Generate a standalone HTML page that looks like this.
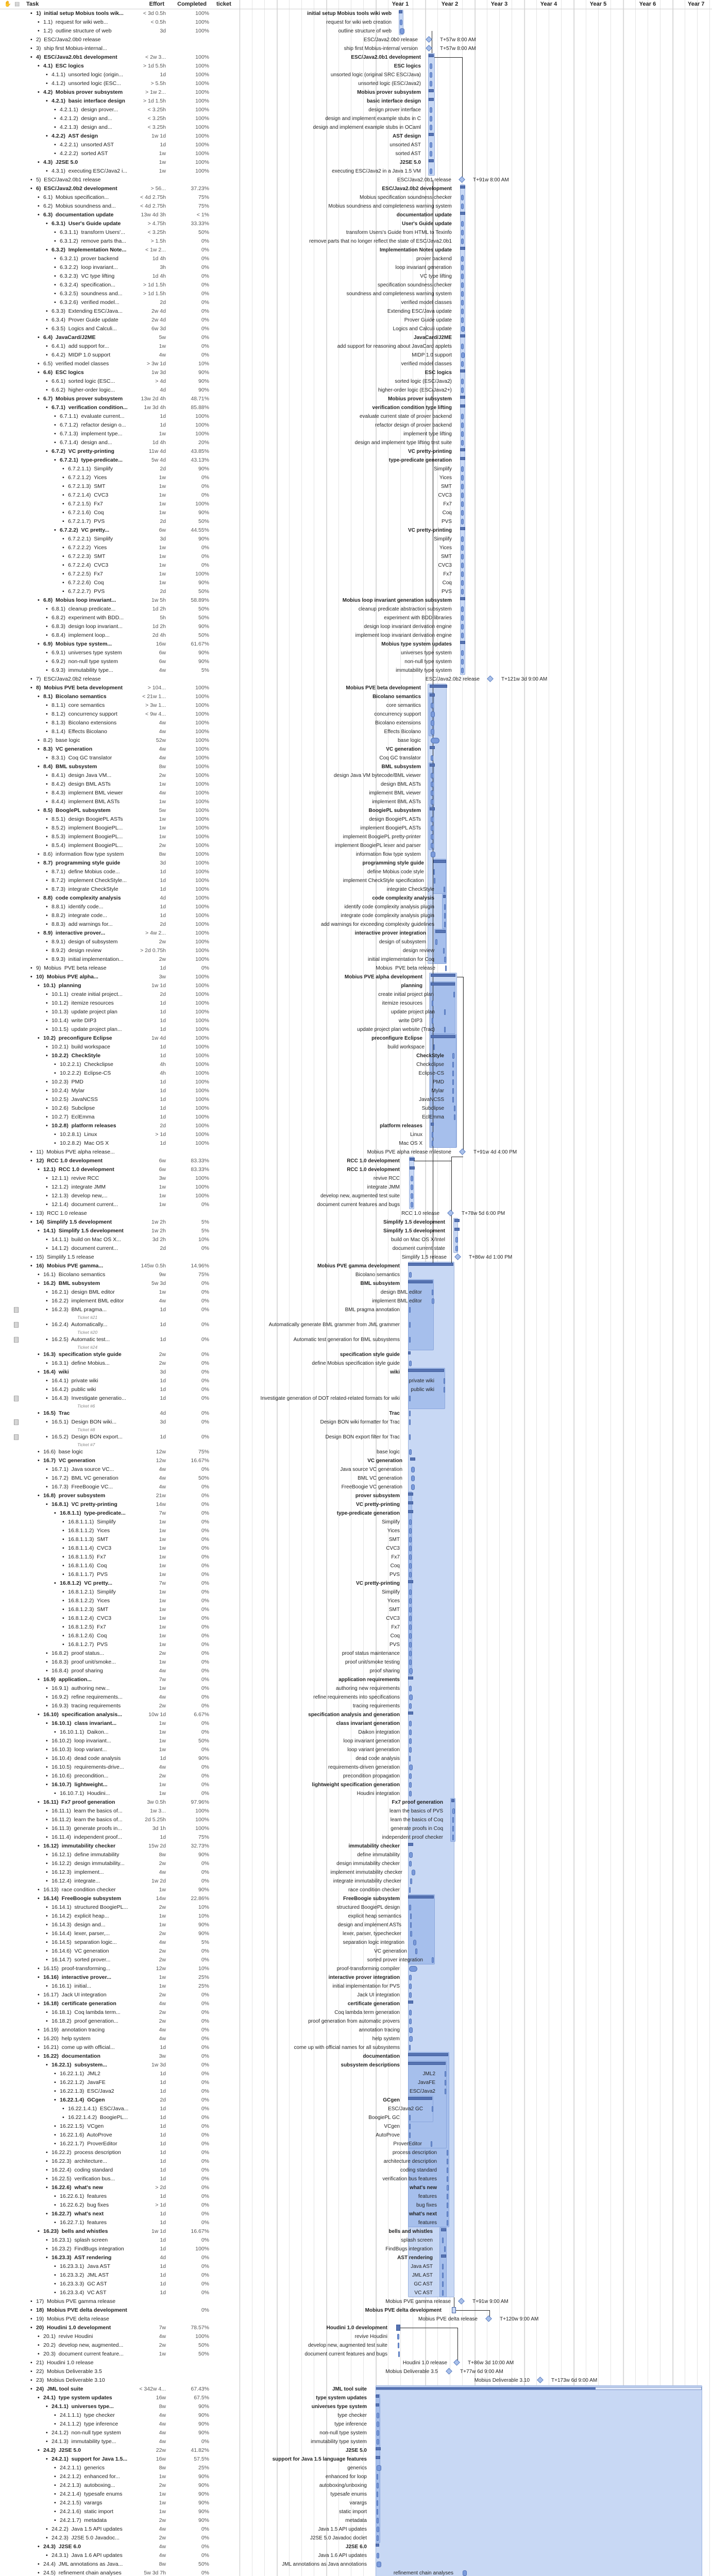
<!DOCTYPE html>
<html style="width:1382px;height:5107px;overflow:hidden"><head><meta charset="utf-8">
<style>
*{margin:0;padding:0;box-sizing:border-box}
html,body{width:1382px;height:5107px;overflow:hidden;background:#fff}
#wrap{position:absolute;left:0;top:0;width:1382px;height:5107px;overflow:hidden;font-family:"Liberation Sans",sans-serif;color:#222}
#grid{position:absolute;left:465px;top:0;width:917px;height:5107px;border-left:1px solid #c4c4c4;
background-image:repeating-linear-gradient(to right,transparent 0,transparent 71px,#cdcdcd 71px,#cdcdcd 72px,transparent 72px,transparent 96px),repeating-linear-gradient(to right,transparent 0,transparent 23px,#e4e4e4 23px,#e4e4e4 24px);background-position:1px 0,0 0}
#rows{position:absolute;left:0;top:0;width:1382px;height:5107px;overflow:hidden}
#hdr{position:relative;height:18px;border-bottom:1px solid #d0d0d0;font-size:11px;font-weight:bold;line-height:17px;overflow:hidden}
#hdr span{position:absolute;top:0}
.yr{width:96px;text-align:center}
.r{position:relative;height:17px;font-size:10.5px;line-height:17px;white-space:nowrap;overflow:visible}
.r>span{position:absolute;top:0}
.t{color:#222}
.t::before{content:"\2022";position:absolute;left:-11px;color:#111}
.l1{left:70px}.l2{left:84px}.l3{left:100px}.l4{left:116px}.l5{left:132px}.l6{left:148px}
.e{right:1060px;color:#555}
.c{right:976px;color:#555}
.g{right:var(--g);font-size:10px;color:#222}
.b{font-weight:bold}
.r>b{position:absolute;display:block}
.k{left:var(--x);top:3px;width:5px;height:11px;border-radius:3px;background:#7b9bdb;border:1px solid #4f71b6}
.s{left:calc(var(--x) - 2px);top:2px;width:10px;height:6px;background:#5673b2;border:1px solid #3f5c9c}
.d{left:calc(var(--x) - 6px);top:3px;width:9px;height:9px;transform:rotate(45deg);background:#a9c0ea;border:1px solid #5d80c0}
.m{left:calc(var(--x) + 20px);font-size:10px}
.tk{height:12px;position:relative;font-size:8.5px;font-style:italic;color:#888;line-height:12px}
.tk span{position:absolute;left:150px;top:0}
.ic{position:absolute;left:27px;top:3px;width:9px;height:11px;border:1px solid #999;background:repeating-linear-gradient(#fff 0,#fff 1px,#aaa 1px,#aaa 2px);}
.bx{position:absolute;background:#c8d8f4;border:1px solid #9cb3de;border-radius:2px}
.bi{position:absolute;background:#a6bfec;border:1px solid #8aa6dc;border-radius:2px}
.ln{position:absolute;background:#222}
.A{--g:622px;--x:776px}.B{--g:565px;--x:834px}.C{--g:505px;--x:895px}
.D{--g:565px;--x:836px}.D2{--g:559px;--x:860px}.D3{--g:539px;--x:862px}.D4{--g:555px;--x:858px}
.E{--g:562px;--x:840px}.E2{--g:540px;--x:880px}.E3{--g:520px;--x:878px}
.F{--g:606px;--x:797px}.G{--g:518px;--x:884px}
.H{--g:606px;--x:794px}.H2{--g:563px;--x:838px}.H3{--g:539px;--x:861px}.H4{--g:522px;--x:878px}
.H5{--g:537px;--x:863px}.H6{--g:534px;--x:867px}.H7{--g:542px;--x:858px}
.J{--g:670px;--x:731px}
</style></head><body><div id="wrap">
<div id="grid"></div>
<div class="bx" style="left:774px;top:19px;width:9px;height:49px"></div>
<div class="bx" style="left:831px;top:103px;width:13px;height:238px"></div>
<div class="bx" style="left:893px;top:358px;width:10px;height:952px"></div>
<div class="bx" style="left:830px;top:1327px;width:37px;height:544px"></div>
<div class="bi" style="left:832px;top:1344px;width:11px;height:85px"></div>
<div class="bi" style="left:832px;top:1480px;width:11px;height:85px"></div>
<div class="bi" style="left:832px;top:1565px;width:11px;height:85px"></div>
<div class="bi" style="left:840px;top:1667px;width:26px;height:68px"></div>
<div class="bi" style="left:858px;top:1735px;width:8px;height:68px"></div>
<div class="bi" style="left:843px;top:1803px;width:23px;height:68px"></div>
<div class="bx" style="left:833px;top:1888px;width:54px;height:340px"></div>
<div class="bi" style="left:835px;top:1905px;width:49px;height:102px"></div>
<div class="bi" style="left:835px;top:2007px;width:51px;height:221px"></div>
<div class="bx" style="left:794px;top:2245px;width:10px;height:102px"></div>
<div class="bx" style="left:880px;top:2364px;width:9px;height:68px"></div>
<div class="bx" style="left:792px;top:2449px;width:90px;height:2010px"></div>
<div class="bi" style="left:792px;top:2483px;width:50px;height:138px"></div>
<div class="bi" style="left:792px;top:2655px;width:72px;height:80px"></div>
<div class="bi" style="left:792px;top:2895px;width:8px;height:357px"></div>
<div class="bi" style="left:874px;top:3490px;width:10px;height:85px"></div>
<div class="bi" style="left:792px;top:3677px;width:52px;height:136px"></div>
<div class="bi" style="left:792px;top:3983px;width:80px;height:340px"></div>
<div class="bi" style="left:792px;top:4000px;width:75px;height:170px"></div>
<div class="bi" style="left:792px;top:4068px;width:49px;height:51px"></div>
<div class="bi" style="left:853px;top:4323px;width:14px;height:136px"></div>
<div class="bx" style="left:729px;top:4630px;width:634px;height:472px"></div>
<div class="bi" style="left:729px;top:4647px;width:9px;height:289px"></div>
<div class="bi" style="left:857px;top:5003px;width:505px;height:99px"></div>
<div class="ln" style="left:838px;top:60px;width:1px;height:43px"></div>
<div class="ln" style="left:843px;top:111px;width:54px;height:1px"></div>
<div class="ln" style="left:897px;top:111px;width:1px;height:234px"></div>
<div class="ln" style="left:840px;top:349px;width:1px;height:2108px"></div>
<div class="ln" style="left:887px;top:1896px;width:12px;height:1px"></div>
<div class="ln" style="left:899px;top:1896px;width:1px;height:336px"></div>
<div class="ln" style="left:876px;top:2245px;width:23px;height:1px"></div>
<div class="ln" style="left:803px;top:2253px;width:73px;height:1px"></div>
<div class="ln" style="left:876px;top:2245px;width:1px;height:212px"></div>
<div class="ln" style="left:881px;top:4459px;width:1px;height:25px"></div>
<div class="ln" style="left:880px;top:4484px;width:70px;height:1px"></div>
<div class="ln" style="left:950px;top:4484px;width:1px;height:13px"></div>
<div class="ln" style="left:771px;top:4518px;width:117px;height:1px"></div>
<div class="ln" style="left:888px;top:4518px;width:1px;height:64px"></div>
<div style="position:absolute;left:729px;top:4633px;width:633px;height:6px;background:#dfe8f8;border:1px solid #7d95c8"></div>
<div style="position:absolute;left:730px;top:4634px;width:426px;height:4px;background:#5673b2"></div>
<div style="position:absolute;left:858px;top:5006px;width:504px;height:6px;background:#dfe8f8;border:1px solid #7d95c8"></div>
<div style="position:absolute;left:859px;top:5007px;width:383px;height:4px;background:#5673b2"></div>
<div style="position:absolute;left:1203px;top:5023px;width:159px;height:12px;background:#dfe8f8;border:1px solid #7d95c8;border-radius:3px"></div>
<div style="position:absolute;left:1204px;top:5024px;width:125px;height:10px;background:#5a7ab8;border-radius:2px"></div>
<div style="position:absolute;left:1203px;top:5040px;width:159px;height:12px;background:#dfe8f8;border:1px solid #7d95c8;border-radius:3px"></div>
<div style="position:absolute;left:1204px;top:5041px;width:125px;height:10px;background:#5a7ab8;border-radius:2px"></div>
<div id="rows">
<div id="hdr"><span style="left:8px;color:#555">&#9995;</span><span style="left:28px;font-weight:normal;color:#999">&#9636;</span><span style="left:51px">Task</span><span style="right:1063px">Effort</span><span style="right:981px">Completed</span><span style="left:420px">ticket</span>
<span class="yr" style="left:729px">Year 1</span><span class="yr" style="left:825px">Year 2</span><span class="yr" style="left:921px">Year 3</span><span class="yr" style="left:1017px">Year 4</span><span class="yr" style="left:1113px">Year 5</span><span class="yr" style="left:1209px">Year 6</span><span class="yr" style="left:1305px;width:77px;text-align:left;padding-left:30px">Year 7</span></div>

<div class="r A"><span class="t l1 b">1)&nbsp; initial setup Mobius tools wik...</span><span class="e">&lt; 3d 0.5h</span><span class="c">100%</span><span class="g b">initial setup Mobius tools wiki web</span><b class="s" style="width:7px"></b></div>
<div class="r A"><span class="t l2">1.1)&nbsp; request for wiki web...</span><span class="e">&lt; 0.5h</span><span class="c">100%</span><span class="g">request for wiki web creation</span><b class="k"></b></div>
<div class="r A"><span class="t l2">1.2)&nbsp; outline structure of web</span><span class="e">3d</span><span class="c">100%</span><span class="g">outline structure of web</span><b class="k" style="width:9px"></b></div>
<div class="r" style="--g:571px;--x:834px"><span class="t l1">2)&nbsp; ESC/Java2.0b0 release</span><span class="g">ESC/Java2.0b0 release</span><b class="d"></b><span class="m">T+57w 8:00 AM</span></div>
<div class="r" style="--g:571px;--x:834px"><span class="t l1">3)&nbsp; ship first Mobius-internal...</span><span class="g">ship first Mobius-internal version</span><b class="d"></b><span class="m">T+57w 8:00 AM</span></div>
<div class="r B"><span class="t l1 b">4)&nbsp; ESC/Java2.0b1 development</span><span class="e">&lt; 2w 3...</span><span class="c">100%</span><span class="g b">ESC/Java2.0b1 development</span><b class="s"></b></div>
<div class="r B"><span class="t l2 b">4.1)&nbsp; ESC logics</span><span class="e">&gt; 1d 5.5h</span><span class="c">100%</span><span class="g b">ESC logics</span><b class="k"></b></div>
<div class="r B"><span class="t l3">4.1.1)&nbsp; unsorted logic (origin...</span><span class="e">1d</span><span class="c">100%</span><span class="g">unsorted logic (original SRC ESC/Java)</span><b class="k"></b></div>
<div class="r B"><span class="t l3">4.1.2)&nbsp; unsorted logic (ESC...</span><span class="e">&gt; 5.5h</span><span class="c">100%</span><span class="g">unsorted logic (ESC/Java2)</span><b class="k"></b></div>
<div class="r B"><span class="t l2 b">4.2)&nbsp; Mobius prover subsystem</span><span class="e">&gt; 1w 2...</span><span class="c">100%</span><span class="g b">Mobius prover subsystem</span><b class="s"></b></div>
<div class="r B"><span class="t l3 b">4.2.1)&nbsp; basic interface design</span><span class="e">&gt; 1d 1.5h</span><span class="c">100%</span><span class="g b">basic interface design</span><b class="s"></b></div>
<div class="r B"><span class="t l4">4.2.1.1)&nbsp; design prover...</span><span class="e">&lt; 3.25h</span><span class="c">100%</span><span class="g">design prover interface</span><b class="k"></b></div>
<div class="r B"><span class="t l4">4.2.1.2)&nbsp; design and...</span><span class="e">&lt; 3.25h</span><span class="c">100%</span><span class="g">design and implement example stubs in C</span><b class="k"></b></div>
<div class="r B"><span class="t l4">4.2.1.3)&nbsp; design and...</span><span class="e">&lt; 3.25h</span><span class="c">100%</span><span class="g">design and implement example stubs in OCaml</span><b class="k"></b></div>
<div class="r B"><span class="t l3 b">4.2.2)&nbsp; AST design</span><span class="e">1w 1d</span><span class="c">100%</span><span class="g b">AST design</span><b class="s"></b></div>
<div class="r B"><span class="t l4">4.2.2.1)&nbsp; unsorted AST</span><span class="e">1d</span><span class="c">100%</span><span class="g">unsorted AST</span><b class="k"></b></div>
<div class="r B"><span class="t l4">4.2.2.2)&nbsp; sorted AST</span><span class="e">1w</span><span class="c">100%</span><span class="g">sorted AST</span><b class="k"></b></div>
<div class="r B"><span class="t l2 b">4.3)&nbsp; J2SE 5.0</span><span class="e">1w</span><span class="c">100%</span><span class="g b">J2SE 5.0</span><b class="s"></b></div>
<div class="r B"><span class="t l3">4.3.1)&nbsp; executing ESC/Java2 i...</span><span class="e">1w</span><span class="c">100%</span><span class="g">executing ESC/Java2 in a Java 1.5 VM</span><b class="k"></b></div>
<div class="r" style="--g:506px;--x:898px"><span class="t l1">5)&nbsp; ESC/Java2.0b1 release</span><span class="g">ESC/Java2.0b1 release</span><b class="d"></b><span class="m">T+91w 8:00 AM</span></div>
<div class="r C"><span class="t l1 b">6)&nbsp; ESC/Java2.0b2 development</span><span class="e">&gt; 56...</span><span class="c">37.23%</span><span class="g b">ESC/Java2.0b2 development</span><b class="s"></b></div>
<div class="r C"><span class="t l2">6.1)&nbsp; Mobius specification...</span><span class="e">&lt; 4d 2.75h</span><span class="c">75%</span><span class="g">Mobius specification soundness checker</span><b class="k"></b></div>
<div class="r C"><span class="t l2">6.2)&nbsp; Mobius soundness and...</span><span class="e">&lt; 4d 2.75h</span><span class="c">75%</span><span class="g">Mobius soundness and completeness warning system</span><b class="k"></b></div>
<div class="r C"><span class="t l2 b">6.3)&nbsp; documentation update</span><span class="e">13w 4d 3h</span><span class="c">&lt; 1%</span><span class="g b">documentation update</span><b class="s"></b></div>
<div class="r C"><span class="t l3 b">6.3.1)&nbsp; User's Guide update</span><span class="e">&gt; 4.75h</span><span class="c">33.33%</span><span class="g b">User's Guide update</span><b class="k"></b></div>
<div class="r C"><span class="t l4">6.3.1.1)&nbsp; transform Users'...</span><span class="e">&lt; 3.25h</span><span class="c">50%</span><span class="g">transform Users's Guide from HTML to Texinfo</span><b class="k"></b></div>
<div class="r C"><span class="t l4">6.3.1.2)&nbsp; remove parts tha...</span><span class="e">&gt; 1.5h</span><span class="c">0%</span><span class="g">remove parts that no longer reflect the state of ESC/Java2.0b1</span><b class="k"></b></div>
<div class="r C"><span class="t l3 b">6.3.2)&nbsp; Implementation Note...</span><span class="e">&lt; 1w 2...</span><span class="c">0%</span><span class="g b">Implementation Notes update</span><b class="s"></b></div>
<div class="r C"><span class="t l4">6.3.2.1)&nbsp; prover backend</span><span class="e">1d 4h</span><span class="c">0%</span><span class="g">prover backend</span><b class="k"></b></div>
<div class="r C"><span class="t l4">6.3.2.2)&nbsp; loop invariant...</span><span class="e">3h</span><span class="c">0%</span><span class="g">loop invariant generation</span><b class="k"></b></div>
<div class="r C"><span class="t l4">6.3.2.3)&nbsp; VC type lifting</span><span class="e">1d 4h</span><span class="c">0%</span><span class="g">VC type lifting</span><b class="k"></b></div>
<div class="r C"><span class="t l4">6.3.2.4)&nbsp; specification...</span><span class="e">&gt; 1d 1.5h</span><span class="c">0%</span><span class="g">specification soundness checker</span><b class="k"></b></div>
<div class="r C"><span class="t l4">6.3.2.5)&nbsp; soundness and...</span><span class="e">&gt; 1d 1.5h</span><span class="c">0%</span><span class="g">soundness and completeness warning system</span><b class="k"></b></div>
<div class="r C"><span class="t l4">6.3.2.6)&nbsp; verified model...</span><span class="e">2d</span><span class="c">0%</span><span class="g">verified model classes</span><b class="k"></b></div>
<div class="r C"><span class="t l3">6.3.3)&nbsp; Extending ESC/Java...</span><span class="e">2w 4d</span><span class="c">0%</span><span class="g">Extending ESC/Java update</span><b class="k"></b></div>
<div class="r C"><span class="t l3">6.3.4)&nbsp; Prover Guide update</span><span class="e">2w 4d</span><span class="c">0%</span><span class="g">Prover Guide update</span><b class="k"></b></div>
<div class="r C"><span class="t l3">6.3.5)&nbsp; Logics and Calculi...</span><span class="e">6w 3d</span><span class="c">0%</span><span class="g">Logics and Calculi update</span><b class="k" style="width:7px"></b></div>
<div class="r C"><span class="t l2 b">6.4)&nbsp; JavaCard/J2ME</span><span class="e">5w</span><span class="c">0%</span><span class="g b">JavaCard/J2ME</span><b class="s"></b></div>
<div class="r C"><span class="t l3">6.4.1)&nbsp; add support for...</span><span class="e">1w</span><span class="c">0%</span><span class="g">add support for reasoning about JavaCard applets</span><b class="k"></b></div>
<div class="r C"><span class="t l3">6.4.2)&nbsp; MIDP 1.0 support</span><span class="e">4w</span><span class="c">0%</span><span class="g">MIDP 1.0 support</span><b class="k" style="width:7px"></b></div>
<div class="r C"><span class="t l2">6.5)&nbsp; verified model classes</span><span class="e">&gt; 3w 1d</span><span class="c">10%</span><span class="g">verified model classes</span><b class="k"></b></div>
<div class="r C"><span class="t l2 b">6.6)&nbsp; ESC logics</span><span class="e">1w 3d</span><span class="c">90%</span><span class="g b">ESC logics</span><b class="s"></b></div>
<div class="r C"><span class="t l3">6.6.1)&nbsp; sorted logic (ESC...</span><span class="e">&gt; 4d</span><span class="c">90%</span><span class="g">sorted logic (ESC/Java2)</span><b class="k"></b></div>
<div class="r C"><span class="t l3">6.6.2)&nbsp; higher-order logic...</span><span class="e">4d</span><span class="c">90%</span><span class="g">higher-order logic (ESC/Java2+)</span><b class="k"></b></div>
<div class="r C"><span class="t l2 b">6.7)&nbsp; Mobius prover subsystem</span><span class="e">13w 2d 4h</span><span class="c">48.71%</span><span class="g b">Mobius prover subsystem</span><b class="s"></b></div>
<div class="r C"><span class="t l3 b">6.7.1)&nbsp; verification condition...</span><span class="e">1w 3d 4h</span><span class="c">85.88%</span><span class="g b">verification condition type lifting</span><b class="s"></b></div>
<div class="r C"><span class="t l4">6.7.1.1)&nbsp; evaluate current...</span><span class="e">1d</span><span class="c">100%</span><span class="g">evaluate current state of prover backend</span><b class="k"></b></div>
<div class="r C"><span class="t l4">6.7.1.2)&nbsp; refactor design o...</span><span class="e">1d</span><span class="c">100%</span><span class="g">refactor design of prover backend</span><b class="k"></b></div>
<div class="r C"><span class="t l4">6.7.1.3)&nbsp; implement type...</span><span class="e">1w</span><span class="c">100%</span><span class="g">implement type lifting</span><b class="k"></b></div>
<div class="r C"><span class="t l4">6.7.1.4)&nbsp; design and...</span><span class="e">1d 4h</span><span class="c">20%</span><span class="g">design and implement type lifting test suite</span><b class="k"></b></div>
<div class="r C"><span class="t l3 b">6.7.2)&nbsp; VC pretty-printing</span><span class="e">11w 4d</span><span class="c">43.85%</span><span class="g b">VC pretty-printing</span><b class="s"></b></div>
<div class="r C"><span class="t l4 b">6.7.2.1)&nbsp; type-predicate...</span><span class="e">5w 4d</span><span class="c">43.13%</span><span class="g b">type-predicate generation</span><b class="s"></b></div>
<div class="r C"><span class="t l5">6.7.2.1.1)&nbsp; Simplify</span><span class="e">2d</span><span class="c">90%</span><span class="g">Simplify</span><b class="k"></b></div>
<div class="r C"><span class="t l5">6.7.2.1.2)&nbsp; Yices</span><span class="e">1w</span><span class="c">0%</span><span class="g">Yices</span><b class="k"></b></div>
<div class="r C"><span class="t l5">6.7.2.1.3)&nbsp; SMT</span><span class="e">1w</span><span class="c">0%</span><span class="g">SMT</span><b class="k"></b></div>
<div class="r C"><span class="t l5">6.7.2.1.4)&nbsp; CVC3</span><span class="e">1w</span><span class="c">0%</span><span class="g">CVC3</span><b class="k"></b></div>
<div class="r C"><span class="t l5">6.7.2.1.5)&nbsp; Fx7</span><span class="e">1w</span><span class="c">100%</span><span class="g">Fx7</span><b class="k"></b></div>
<div class="r C"><span class="t l5">6.7.2.1.6)&nbsp; Coq</span><span class="e">1w</span><span class="c">90%</span><span class="g">Coq</span><b class="k"></b></div>
<div class="r C"><span class="t l5">6.7.2.1.7)&nbsp; PVS</span><span class="e">2d</span><span class="c">50%</span><span class="g">PVS</span><b class="k"></b></div>
<div class="r C"><span class="t l4 b">6.7.2.2)&nbsp; VC pretty...</span><span class="e">6w</span><span class="c">44.55%</span><span class="g b">VC pretty-printing</span><b class="s"></b></div>
<div class="r C"><span class="t l5">6.7.2.2.1)&nbsp; Simplify</span><span class="e">3d</span><span class="c">90%</span><span class="g">Simplify</span><b class="k"></b></div>
<div class="r C"><span class="t l5">6.7.2.2.2)&nbsp; Yices</span><span class="e">1w</span><span class="c">0%</span><span class="g">Yices</span><b class="k"></b></div>
<div class="r C"><span class="t l5">6.7.2.2.3)&nbsp; SMT</span><span class="e">1w</span><span class="c">0%</span><span class="g">SMT</span><b class="k"></b></div>
<div class="r C"><span class="t l5">6.7.2.2.4)&nbsp; CVC3</span><span class="e">1w</span><span class="c">0%</span><span class="g">CVC3</span><b class="k"></b></div>
<div class="r C"><span class="t l5">6.7.2.2.5)&nbsp; Fx7</span><span class="e">1w</span><span class="c">100%</span><span class="g">Fx7</span><b class="k"></b></div>
<div class="r C"><span class="t l5">6.7.2.2.6)&nbsp; Coq</span><span class="e">1w</span><span class="c">90%</span><span class="g">Coq</span><b class="k"></b></div>
<div class="r C"><span class="t l5">6.7.2.2.7)&nbsp; PVS</span><span class="e">2d</span><span class="c">50%</span><span class="g">PVS</span><b class="k"></b></div>
<div class="r C"><span class="t l2 b">6.8)&nbsp; Mobius loop invariant...</span><span class="e">1w 5h</span><span class="c">58.89%</span><span class="g b">Mobius loop invariant generation subsystem</span><b class="s"></b></div>
<div class="r C"><span class="t l3">6.8.1)&nbsp; cleanup predicate...</span><span class="e">1d 2h</span><span class="c">50%</span><span class="g">cleanup predicate abstraction subsystem</span><b class="k"></b></div>
<div class="r C"><span class="t l3">6.8.2)&nbsp; experiment with BDD...</span><span class="e">5h</span><span class="c">50%</span><span class="g">experiment with BDD libraries</span><b class="k"></b></div>
<div class="r C"><span class="t l3">6.8.3)&nbsp; design loop invariant...</span><span class="e">1d 2h</span><span class="c">90%</span><span class="g">design loop invariant derivation engine</span><b class="k"></b></div>
<div class="r C"><span class="t l3">6.8.4)&nbsp; implement loop...</span><span class="e">2d 4h</span><span class="c">50%</span><span class="g">implement loop invariant derivation engine</span><b class="k"></b></div>
<div class="r C"><span class="t l2 b">6.9)&nbsp; Mobius type system...</span><span class="e">16w</span><span class="c">61.67%</span><span class="g b">Mobius type system updates</span><b class="s"></b></div>
<div class="r C"><span class="t l3">6.9.1)&nbsp; universes type system</span><span class="e">6w</span><span class="c">90%</span><span class="g">universes type system</span><b class="k"></b></div>
<div class="r C"><span class="t l3">6.9.2)&nbsp; non-null type system</span><span class="e">6w</span><span class="c">90%</span><span class="g">non-null type system</span><b class="k"></b></div>
<div class="r C"><span class="t l3">6.9.3)&nbsp; immutability type...</span><span class="e">4w</span><span class="c">5%</span><span class="g">immutability type system</span><b class="k"></b></div>
<div class="r" style="--g:451px;--x:953px"><span class="t l1">7)&nbsp; ESC/Java2.0b2 release</span><span class="g">ESC/Java2.0b2 release</span><b class="d"></b><span class="m">T+121w 3d 9:00 AM</span></div>
<div class="r D"><span class="t l1 b">8)&nbsp; Mobius PVE beta development</span><span class="e">&gt; 104...</span><span class="c">100%</span><span class="g b">Mobius PVE beta development</span><b class="s" style="width:34px"></b></div>
<div class="r D"><span class="t l2 b">8.1)&nbsp; Bicolano semantics</span><span class="e">&lt; 21w 1...</span><span class="c">100%</span><span class="g b">Bicolano semantics</span><b class="s"></b></div>
<div class="r D"><span class="t l3">8.1.1)&nbsp; core semantics</span><span class="e">&gt; 3w 1...</span><span class="c">100%</span><span class="g">core semantics</span><b class="k"></b></div>
<div class="r D"><span class="t l3">8.1.2)&nbsp; concurrency support</span><span class="e">&lt; 9w 4...</span><span class="c">100%</span><span class="g">concurrency support</span><b class="k" style="width:8px"></b></div>
<div class="r D"><span class="t l3">8.1.3)&nbsp; Bicolano extensions</span><span class="e">4w</span><span class="c">100%</span><span class="g">Bicolano extensions</span><b class="k" style="width:7px"></b></div>
<div class="r D"><span class="t l3">8.1.4)&nbsp; Effects Bicolano</span><span class="e">4w</span><span class="c">100%</span><span class="g">Effects Bicolano</span><b class="k" style="width:7px"></b></div>
<div class="r D"><span class="t l2">8.2)&nbsp; base logic</span><span class="e">52w</span><span class="c">100%</span><span class="g">base logic</span><b class="k" style="width:17px;border-radius:6px"></b></div>
<div class="r D"><span class="t l2 b">8.3)&nbsp; VC generation</span><span class="e">4w</span><span class="c">100%</span><span class="g b">VC generation</span><b class="s"></b></div>
<div class="r D"><span class="t l3">8.3.1)&nbsp; Coq GC translator</span><span class="e">4w</span><span class="c">100%</span><span class="g">Coq GC translator</span><b class="k"></b></div>
<div class="r D"><span class="t l2 b">8.4)&nbsp; BML subsystem</span><span class="e">8w</span><span class="c">100%</span><span class="g b">BML subsystem</span><b class="s"></b></div>
<div class="r D"><span class="t l3">8.4.1)&nbsp; design Java VM...</span><span class="e">2w</span><span class="c">100%</span><span class="g">design Java VM bytecode/BML viewer</span><b class="k"></b></div>
<div class="r D"><span class="t l3">8.4.2)&nbsp; design BML ASTs</span><span class="e">1w</span><span class="c">100%</span><span class="g">design BML ASTs</span><b class="k"></b></div>
<div class="r D"><span class="t l3">8.4.3)&nbsp; implement BML viewer</span><span class="e">4w</span><span class="c">100%</span><span class="g">implement BML viewer</span><b class="k"></b></div>
<div class="r D"><span class="t l3">8.4.4)&nbsp; implement BML ASTs</span><span class="e">1w</span><span class="c">100%</span><span class="g">implement BML ASTs</span><b class="k"></b></div>
<div class="r D"><span class="t l2 b">8.5)&nbsp; BooglePL subsystem</span><span class="e">5w</span><span class="c">100%</span><span class="g b">BoogiePL subsystem</span><b class="s"></b></div>
<div class="r D"><span class="t l3">8.5.1)&nbsp; design BoogiePL ASTs</span><span class="e">1w</span><span class="c">100%</span><span class="g">design BoogiePL ASTs</span><b class="k"></b></div>
<div class="r D"><span class="t l3">8.5.2)&nbsp; implement BoogiePL...</span><span class="e">1w</span><span class="c">100%</span><span class="g">implement BoogiePL ASTs</span><b class="k"></b></div>
<div class="r D"><span class="t l3">8.5.3)&nbsp; implement BoogiePL...</span><span class="e">1w</span><span class="c">100%</span><span class="g">implement BoogiePL pretty-printer</span><b class="k"></b></div>
<div class="r D"><span class="t l3">8.5.4)&nbsp; implement BoogiePL...</span><span class="e">2w</span><span class="c">100%</span><span class="g">implement BoogiePL lexer and parser</span><b class="k"></b></div>
<div class="r D"><span class="t l2">8.6)&nbsp; information flow type system</span><span class="e">8w</span><span class="c">100%</span><span class="g">information flow type system</span><b class="k" style="width:9px"></b></div>
<div class="r D2"><span class="t l2 b">8.7)&nbsp; programming style guide</span><span class="e">3d</span><span class="c">100%</span><span class="g b">programming style guide</span><b class="s" style="left:841px;width:25px"></b></div>
<div class="r D2" style="--x:841px"><span class="t l3">8.7.1)&nbsp; define Mobius code...</span><span class="e">1d</span><span class="c">100%</span><span class="g">define Mobius code style</span><b class="k" style="width:3px"></b></div>
<div class="r D2" style="--x:842px"><span class="t l3">8.7.2)&nbsp; implement CheckStyle...</span><span class="e">1d</span><span class="c">100%</span><span class="g">implement CheckStyle specification</span><b class="k" style="width:3px"></b></div>
<div class="r D2" style="--g:539px;--x:861px"><span class="t l3">8.7.3)&nbsp; integrate CheckStyle</span><span class="e">1d</span><span class="c">100%</span><span class="g">integrate CheckStyle</span><b class="k" style="width:3px"></b></div>
<div class="r D3"><span class="t l2 b">8.8)&nbsp; code complexity analysis</span><span class="e">4d</span><span class="c">100%</span><span class="g b">code complexity analysis</span><b class="s" style="width:5px"></b></div>
<div class="r D3"><span class="t l3">8.8.1)&nbsp; identify code...</span><span class="e">1d</span><span class="c">100%</span><span class="g">identify code complexity analysis plugin</span><b class="k" style="width:3px"></b></div>
<div class="r D3"><span class="t l3">8.8.2)&nbsp; integrate code...</span><span class="e">1d</span><span class="c">100%</span><span class="g">integrate code complexity analysis plugin</span><b class="k" style="width:3px"></b></div>
<div class="r D3"><span class="t l3">8.8.3)&nbsp; add warnings for...</span><span class="e">2d</span><span class="c">100%</span><span class="g">add warnings for exceeding complexity guidelines</span><b class="k" style="width:3px"></b></div>
<div class="r D4"><span class="t l2 b">8.9)&nbsp; interactive prover...</span><span class="e">&gt; 4w 2...</span><span class="c">100%</span><span class="g b">interactive prover integration</span><b class="s" style="left:845px;width:20px"></b></div>
<div class="r D4" style="--x:845px"><span class="t l3">8.9.1)&nbsp; design of subsystem</span><span class="e">2w</span><span class="c">100%</span><span class="g">design of subsystem</span><b class="k" style="width:4px"></b></div>
<div class="r D4" style="--g:539px;--x:860px"><span class="t l3">8.9.2)&nbsp; design review</span><span class="e">&gt; 2d 0.75h</span><span class="c">100%</span><span class="g">design review</span><b class="k" style="width:3px"></b></div>
<div class="r D4" style="--g:539px;--x:862px"><span class="t l3">8.9.3)&nbsp; initial implementation...</span><span class="e">2w</span><span class="c">100%</span><span class="g">initial implementation for Coq</span><b class="k" style="width:4px"></b></div>
<div class="r" style="--g:537px;--x:864px"><span class="t l1">9)&nbsp; Mobius&nbsp; PVE beta release</span><span class="e">1d</span><span class="c">0%</span><span class="g">Mobius&nbsp; PVE beta release</span><b class="k" style="width:3px"></b></div>
<div class="r E"><span class="t l1 b">10)&nbsp; Mobius PVE alpha...</span><span class="e">3w</span><span class="c">100%</span><span class="g b">Mobius PVE alpha development</span><b class="s" style="left:836px;width:48px"></b></div>
<div class="r E"><span class="t l2 b">10.1)&nbsp; planning</span><span class="e">1w 1d</span><span class="c">100%</span><span class="g b">planning</span><b class="s" style="left:836px;width:47px"></b></div>
<div class="r E2"><span class="t l3">10.1.1)&nbsp; create initial project...</span><span class="e">2d</span><span class="c">100%</span><span class="g">create initial project plan</span><b class="k" style="width:3px"></b></div>
<div class="r E" style="--x:838px"><span class="t l3">10.1.2)&nbsp; itemize resources</span><span class="e">1d</span><span class="c">100%</span><span class="g">itemize resources</span><b class="k" style="width:3px"></b></div>
<div class="r E2" style="--g:538px;--x:862px"><span class="t l3">10.1.3)&nbsp; update project plan</span><span class="e">1d</span><span class="c">100%</span><span class="g">update project plan</span><b class="k" style="width:3px"></b></div>
<div class="r E" style="--x:838px"><span class="t l3">10.1.4)&nbsp; write DIP3</span><span class="e">1d</span><span class="c">100%</span><span class="g">write DIP3</span><b class="k" style="width:3px"></b></div>
<div class="r E2" style="--g:538px;--x:862px"><span class="t l3">10.1.5)&nbsp; update project plan...</span><span class="e">1d</span><span class="c">100%</span><span class="g">update project plan website (Trac)</span><b class="k" style="width:3px"></b></div>
<div class="r E"><span class="t l2 b">10.2)&nbsp; preconfigure Eclipse</span><span class="e">1w 4d</span><span class="c">100%</span><span class="g b">preconfigure Eclipse</span><b class="s" style="left:836px;width:48px"></b></div>
<div class="r E" style="--g:558px;--x:841px"><span class="t l3">10.2.1)&nbsp; build workspace</span><span class="e">1d</span><span class="c">100%</span><span class="g">build workspace</span><b class="k" style="width:3px"></b></div>
<div class="r E3"><span class="t l3 b">10.2.2)&nbsp; CheckStyle</span><span class="e">1d</span><span class="c">100%</span><span class="g b">CheckStyle</span><b class="k" style="width:4px"></b></div>
<div class="r E3"><span class="t l4">10.2.2.1)&nbsp; Checkclipse</span><span class="e">4h</span><span class="c">100%</span><span class="g">Checkclipse</span><b class="k" style="width:3px"></b></div>
<div class="r E3"><span class="t l4">10.2.2.2)&nbsp; Eclipse-CS</span><span class="e">4h</span><span class="c">100%</span><span class="g">Eclipse-CS</span><b class="k" style="width:3px"></b></div>
<div class="r E3"><span class="t l3">10.2.3)&nbsp; PMD</span><span class="e">1d</span><span class="c">100%</span><span class="g">PMD</span><b class="k" style="width:3px"></b></div>
<div class="r E3"><span class="t l3">10.2.4)&nbsp; Mylar</span><span class="e">1d</span><span class="c">100%</span><span class="g">Mylar</span><b class="k" style="width:3px"></b></div>
<div class="r E3"><span class="t l3">10.2.5)&nbsp; JavaNCSS</span><span class="e">1d</span><span class="c">100%</span><span class="g">JavaNCSS</span><b class="k" style="width:3px"></b></div>
<div class="r E3" style="--x:881px"><span class="t l3">10.2.6)&nbsp; Subclipse</span><span class="e">1d</span><span class="c">100%</span><span class="g">Subclipse</span><b class="k" style="width:3px"></b></div>
<div class="r E3" style="--x:881px"><span class="t l3">10.2.7)&nbsp; EclEmma</span><span class="e">1d</span><span class="c">100%</span><span class="g">EclEmma</span><b class="k" style="width:3px"></b></div>
<div class="r E" style="--x:838px"><span class="t l3 b">10.2.8)&nbsp; platform releases</span><span class="e">2d</span><span class="c">100%</span><span class="g b">platform releases</span><b class="s" style="width:6px"></b></div>
<div class="r E" style="--x:838px"><span class="t l4">10.2.8.1)&nbsp; Linux</span><span class="e">&gt; 1d</span><span class="c">100%</span><span class="g">Linux</span><b class="k" style="width:3px"></b></div>
<div class="r E" style="--x:838px"><span class="t l4">10.2.8.2)&nbsp; Mac OS X</span><span class="e">1d</span><span class="c">100%</span><span class="g">Mac OS X</span><b class="k" style="width:3px"></b></div>
<div class="r" style="--g:506px;--x:899px"><span class="t l1">11)&nbsp; Mobius PVE alpha release...</span><span class="g">Mobius PVE alpha release milestone</span><b class="d"></b><span class="m">T+91w 4d 4:00 PM</span></div>
<div class="r F"><span class="t l1 b">12)&nbsp; RCC 1.0 development</span><span class="e">6w</span><span class="c">83.33%</span><span class="g b">RCC 1.0 development</span><b class="s"></b></div>
<div class="r F"><span class="t l2 b">12.1)&nbsp; RCC 1.0 development</span><span class="e">6w</span><span class="c">83.33%</span><span class="g b">RCC 1.0 development</span><b class="s"></b></div>
<div class="r F"><span class="t l3">12.1.1)&nbsp; revive RCC</span><span class="e">3w</span><span class="c">100%</span><span class="g">revive RCC</span><b class="k"></b></div>
<div class="r F"><span class="t l3">12.1.2)&nbsp; integrate JMM</span><span class="e">1w</span><span class="c">100%</span><span class="g">integrate JMM</span><b class="k"></b></div>
<div class="r F"><span class="t l3">12.1.3)&nbsp; develop new,...</span><span class="e">1w</span><span class="c">100%</span><span class="g">develop new, augmented test suite</span><b class="k"></b></div>
<div class="r F"><span class="t l3">12.1.4)&nbsp; document current...</span><span class="e">1w</span><span class="c">0%</span><span class="g">document current features and bugs</span><b class="k"></b></div>
<div class="r" style="--g:529px;--x:876px"><span class="t l1">13)&nbsp; RCC 1.0 release</span><span class="g">RCC 1.0 release</span><b class="d"></b><span class="m">T+78w 5d 6:00 PM</span></div>
<div class="r G"><span class="t l1 b">14)&nbsp; Simplify 1.5 development</span><span class="e">1w 2h</span><span class="c">5%</span><span class="g b">Simplify 1.5 development</span><b class="s"></b></div>
<div class="r G"><span class="t l2 b">14.1)&nbsp; Simplify 1.5 development</span><span class="e">1w 2h</span><span class="c">5%</span><span class="g b">Simplify 1.5 development</span><b class="s"></b></div>
<div class="r G"><span class="t l3">14.1.1)&nbsp; build on Mac OS X...</span><span class="e">3d 2h</span><span class="c">10%</span><span class="g">build on Mac OS X/Intel</span><b class="k"></b></div>
<div class="r G"><span class="t l3">14.1.2)&nbsp; document current...</span><span class="e">2d</span><span class="c">0%</span><span class="g">document current state</span><b class="k"></b></div>
<div class="r" style="--g:515px;--x:890px"><span class="t l1">15)&nbsp; Simplify 1.5 release</span><span class="g">Simplify 1.5 release</span><b class="d"></b><span class="m">T+86w 4d 1:00 PM</span></div>
<div class="r H"><span class="t l1 b">16)&nbsp; Mobius PVE gamma...</span><span class="e">145w 0.5h</span><span class="c">14.96%</span><span class="g b">Mobius PVE gamma development</span><b class="s" style="width:88px"></b></div>
<div class="r H"><span class="t l2">16.1)&nbsp; Bicolano semantics</span><span class="e">9w</span><span class="c">75%</span><span class="g">Bicolano semantics</span><b class="k"></b></div>
<div class="r H"><span class="t l2 b">16.2)&nbsp; BML subsystem</span><span class="e">5w 3d</span><span class="c">0%</span><span class="g b">BML subsystem</span><b class="s" style="width:48px"></b></div>
<div class="r H2"><span class="t l3">16.2.1)&nbsp; design BML editor</span><span class="e">1w</span><span class="c">0%</span><span class="g">design BML editor</span><b class="k" style="width:3px"></b></div>
<div class="r H2"><span class="t l3">16.2.2)&nbsp; implement BML editor</span><span class="e">4w</span><span class="c">0%</span><span class="g">implement BML editor</span><b class="k"></b></div>
<div class="r H"><i class="ic"></i><span class="t l3">16.2.3)&nbsp; BML pragma...</span><span class="e">1d</span><span class="c">0%</span><span class="g">BML pragma annotation</span><b class="k" style="width:3px"></b></div>
<div class="tk"><span>Ticket #21</span></div>
<div class="r H"><i class="ic"></i><span class="t l3">16.2.4)&nbsp; Automatically...</span><span class="e">1d</span><span class="c">0%</span><span class="g">Automatically generate BML grammer from JML grammer</span><b class="k" style="width:3px"></b></div>
<div class="tk"><span>Ticket #20</span></div>
<div class="r H"><i class="ic"></i><span class="t l3">16.2.5)&nbsp; Automatic test...</span><span class="e">1d</span><span class="c">0%</span><span class="g">Automatic test generation for BML subsystems</span><b class="k" style="width:3px"></b></div>
<div class="tk"><span>Ticket #24</span></div>
<div class="r H"><span class="t l2 b">16.3)&nbsp; specification style guide</span><span class="e">2w</span><span class="c">0%</span><span class="g b">specification style guide</span><b class="s" style="width:5px"></b></div>
<div class="r H"><span class="t l3">16.3.1)&nbsp; define Mobius...</span><span class="e">2w</span><span class="c">0%</span><span class="g">define Mobius specification style guide</span><b class="k"></b></div>
<div class="r H"><span class="t l2 b">16.4)&nbsp; wiki</span><span class="e">3d</span><span class="c">0%</span><span class="g b">wiki</span><b class="s" style="width:70px"></b></div>
<div class="r H3"><span class="t l3">16.4.1)&nbsp; private wiki</span><span class="e">1d</span><span class="c">0%</span><span class="g">private wiki</span><b class="k" style="width:3px"></b></div>
<div class="r H3"><span class="t l3">16.4.2)&nbsp; public wiki</span><span class="e">1d</span><span class="c">0%</span><span class="g">public wiki</span><b class="k" style="width:3px"></b></div>
<div class="r H"><i class="ic"></i><span class="t l3">16.4.3)&nbsp; Investigate generatio...</span><span class="e">1d</span><span class="c">0%</span><span class="g">Investigate generation of DOT related-related formats for wiki</span><b class="k" style="width:3px"></b></div>
<div class="tk"><span>Ticket #6</span></div>
<div class="r H"><span class="t l2 b">16.5)&nbsp; Trac</span><span class="e">4d</span><span class="c">0%</span><span class="g b">Trac</span><b class="k" style="width:3px"></b></div>
<div class="r H"><i class="ic"></i><span class="t l3">16.5.1)&nbsp; Design BON wiki...</span><span class="e">3d</span><span class="c">0%</span><span class="g">Design BON wiki formatter for Trac</span><b class="k" style="width:3px"></b></div>
<div class="tk"><span>Ticket #8</span></div>
<div class="r H"><i class="ic"></i><span class="t l3">16.5.2)&nbsp; Design BON export...</span><span class="e">1d</span><span class="c">0%</span><span class="g">Design BON export filter for Trac</span><b class="k" style="width:3px"></b></div>
<div class="tk"><span>Ticket #7</span></div>
<div class="r H"><span class="t l2">16.6)&nbsp; base logic</span><span class="e">12w</span><span class="c">75%</span><span class="g">base logic</span><b class="k"></b></div>
<div class="r H" style="--g:601px;--x:798px"><span class="t l2 b">16.7)&nbsp; VC generation</span><span class="e">12w</span><span class="c">16.67%</span><span class="g b">VC generation</span><b class="s"></b></div>
<div class="r H" style="--g:601px;--x:798px"><span class="t l3">16.7.1)&nbsp; Java source VC...</span><span class="e">4w</span><span class="c">0%</span><span class="g">Java source VC generation</span><b class="k" style="width:7px"></b></div>
<div class="r H" style="--g:601px;--x:798px"><span class="t l3">16.7.2)&nbsp; BML VC generation</span><span class="e">4w</span><span class="c">50%</span><span class="g">BML VC generation</span><b class="k" style="width:7px"></b></div>
<div class="r H" style="--g:601px;--x:798px"><span class="t l3">16.7.3)&nbsp; FreeBoogie VC...</span><span class="e">4w</span><span class="c">0%</span><span class="g">FreeBoogie VC generation</span><b class="k" style="width:7px"></b></div>
<div class="r H"><span class="t l2 b">16.8)&nbsp; prover subsystem</span><span class="e">21w</span><span class="c">0%</span><span class="g b">prover subsystem</span><b class="s"></b></div>
<div class="r H"><span class="t l3 b">16.8.1)&nbsp; VC pretty-printing</span><span class="e">14w</span><span class="c">0%</span><span class="g b">VC pretty-printing</span><b class="s"></b></div>
<div class="r H"><span class="t l4 b">16.8.1.1)&nbsp; type-predicate...</span><span class="e">7w</span><span class="c">0%</span><span class="g b">type-predicate generation</span><b class="s"></b></div>
<div class="r H"><span class="t l5">16.8.1.1.1)&nbsp; Simplify</span><span class="e">1w</span><span class="c">0%</span><span class="g">Simplify</span><b class="k"></b></div>
<div class="r H"><span class="t l5">16.8.1.1.2)&nbsp; Yices</span><span class="e">1w</span><span class="c">0%</span><span class="g">Yices</span><b class="k"></b></div>
<div class="r H"><span class="t l5">16.8.1.1.3)&nbsp; SMT</span><span class="e">1w</span><span class="c">0%</span><span class="g">SMT</span><b class="k"></b></div>
<div class="r H"><span class="t l5">16.8.1.1.4)&nbsp; CVC3</span><span class="e">1w</span><span class="c">0%</span><span class="g">CVC3</span><b class="k"></b></div>
<div class="r H"><span class="t l5">16.8.1.1.5)&nbsp; Fx7</span><span class="e">1w</span><span class="c">0%</span><span class="g">Fx7</span><b class="k"></b></div>
<div class="r H"><span class="t l5">16.8.1.1.6)&nbsp; Coq</span><span class="e">1w</span><span class="c">0%</span><span class="g">Coq</span><b class="k"></b></div>
<div class="r H"><span class="t l5">16.8.1.1.7)&nbsp; PVS</span><span class="e">1w</span><span class="c">0%</span><span class="g">PVS</span><b class="k"></b></div>
<div class="r H"><span class="t l4 b">16.8.1.2)&nbsp; VC pretty...</span><span class="e">7w</span><span class="c">0%</span><span class="g b">VC pretty-printing</span><b class="s"></b></div>
<div class="r H"><span class="t l5">16.8.1.2.1)&nbsp; Simplify</span><span class="e">1w</span><span class="c">0%</span><span class="g">Simplify</span><b class="k"></b></div>
<div class="r H"><span class="t l5">16.8.1.2.2)&nbsp; Yices</span><span class="e">1w</span><span class="c">0%</span><span class="g">Yices</span><b class="k"></b></div>
<div class="r H"><span class="t l5">16.8.1.2.3)&nbsp; SMT</span><span class="e">1w</span><span class="c">0%</span><span class="g">SMT</span><b class="k"></b></div>
<div class="r H"><span class="t l5">16.8.1.2.4)&nbsp; CVC3</span><span class="e">1w</span><span class="c">0%</span><span class="g">CVC3</span><b class="k"></b></div>
<div class="r H"><span class="t l5">16.8.1.2.5)&nbsp; Fx7</span><span class="e">1w</span><span class="c">0%</span><span class="g">Fx7</span><b class="k"></b></div>
<div class="r H"><span class="t l5">16.8.1.2.6)&nbsp; Coq</span><span class="e">1w</span><span class="c">0%</span><span class="g">Coq</span><b class="k"></b></div>
<div class="r H"><span class="t l5">16.8.1.2.7)&nbsp; PVS</span><span class="e">1w</span><span class="c">0%</span><span class="g">PVS</span><b class="k"></b></div>
<div class="r H"><span class="t l3">16.8.2)&nbsp; proof status...</span><span class="e">2w</span><span class="c">0%</span><span class="g">proof status maintenance</span><b class="k"></b></div>
<div class="r H"><span class="t l3">16.8.3)&nbsp; proof unit/smoke...</span><span class="e">1w</span><span class="c">0%</span><span class="g">proof unit/smoke testing</span><b class="k"></b></div>
<div class="r H"><span class="t l3">16.8.4)&nbsp; proof sharing</span><span class="e">4w</span><span class="c">0%</span><span class="g">proof sharing</span><b class="k" style="width:7px"></b></div>
<div class="r H"><span class="t l2 b">16.9)&nbsp; application...</span><span class="e">7w</span><span class="c">0%</span><span class="g b">application requirements</span><b class="s"></b></div>
<div class="r H"><span class="t l3">16.9.1)&nbsp; authoring new...</span><span class="e">1w</span><span class="c">0%</span><span class="g">authoring new requirements</span><b class="k"></b></div>
<div class="r H"><span class="t l3">16.9.2)&nbsp; refine requirements...</span><span class="e">4w</span><span class="c">0%</span><span class="g">refine requirements into specifications</span><b class="k" style="width:7px"></b></div>
<div class="r H"><span class="t l3">16.9.3)&nbsp; tracing requirements</span><span class="e">2w</span><span class="c">0%</span><span class="g">tracing requirements</span><b class="k"></b></div>
<div class="r H"><span class="t l2 b">16.10)&nbsp; specification analysis...</span><span class="e">10w 1d</span><span class="c">6.67%</span><span class="g b">specification analysis and generation</span><b class="s"></b></div>
<div class="r H"><span class="t l3 b">16.10.1)&nbsp; class invariant...</span><span class="e">1w</span><span class="c">0%</span><span class="g b">class invariant generation</span><b class="k"></b></div>
<div class="r H"><span class="t l4">16.10.1.1)&nbsp; Daikon...</span><span class="e">1w</span><span class="c">0%</span><span class="g">Daikon integration</span><b class="k"></b></div>
<div class="r H"><span class="t l3">16.10.2)&nbsp; loop invariant...</span><span class="e">1w</span><span class="c">50%</span><span class="g">loop invariant generation</span><b class="k"></b></div>
<div class="r H"><span class="t l3">16.10.3)&nbsp; loop variant...</span><span class="e">1w</span><span class="c">0%</span><span class="g">loop variant generation</span><b class="k"></b></div>
<div class="r H"><span class="t l3">16.10.4)&nbsp; dead code analysis</span><span class="e">1d</span><span class="c">90%</span><span class="g">dead code analysis</span><b class="k" style="width:3px"></b></div>
<div class="r H"><span class="t l3">16.10.5)&nbsp; requirements-drive...</span><span class="e">4w</span><span class="c">0%</span><span class="g">requirements-driven generation</span><b class="k" style="width:7px"></b></div>
<div class="r H"><span class="t l3">16.10.6)&nbsp; precondition...</span><span class="e">2w</span><span class="c">0%</span><span class="g">precondition propagation</span><b class="k"></b></div>
<div class="r H"><span class="t l3 b">16.10.7)&nbsp; lightweight...</span><span class="e">1w</span><span class="c">0%</span><span class="g b">lightweight specification generation</span><b class="k"></b></div>
<div class="r H"><span class="t l4">16.10.7.1)&nbsp; Houdini...</span><span class="e">1w</span><span class="c">0%</span><span class="g">Houdini integration</span><b class="k"></b></div>
<div class="r H4"><span class="t l2 b">16.11)&nbsp; Fx7 proof generation</span><span class="e">3w 0.5h</span><span class="c">97.96%</span><span class="g b">Fx7 proof generation</span><b class="s" style="width:6px"></b></div>
<div class="r H4"><span class="t l3">16.11.1)&nbsp; learn the basics of...</span><span class="e">1w 3...</span><span class="c">100%</span><span class="g">learn the basics of PVS</span><b class="k"></b></div>
<div class="r H4"><span class="t l3">16.11.2)&nbsp; learn the basics of...</span><span class="e">2d 5.25h</span><span class="c">100%</span><span class="g">learn the basics of Coq</span><b class="k" style="width:3px"></b></div>
<div class="r H4"><span class="t l3">16.11.3)&nbsp; generate proofs in...</span><span class="e">3d 1h</span><span class="c">100%</span><span class="g">generate proofs in Coq</span><b class="k" style="width:3px"></b></div>
<div class="r H4"><span class="t l3">16.11.4)&nbsp; independent proof...</span><span class="e">1d</span><span class="c">75%</span><span class="g">independent proof checker</span><b class="k" style="width:3px"></b></div>
<div class="r H"><span class="t l2 b">16.12)&nbsp; immutability checker</span><span class="e">15w 2d</span><span class="c">32.73%</span><span class="g b">immutability checker</span><b class="s"></b></div>
<div class="r H"><span class="t l3">16.12.1)&nbsp; define immutability</span><span class="e">8w</span><span class="c">90%</span><span class="g">define immutability</span><b class="k" style="width:7px"></b></div>
<div class="r H"><span class="t l3">16.12.2)&nbsp; design immutability...</span><span class="e">2w</span><span class="c">0%</span><span class="g">design immutability checker</span><b class="k"></b></div>
<div class="r H" style="--g:601px;--x:799px"><span class="t l3">16.12.3)&nbsp; implement...</span><span class="e">4w</span><span class="c">0%</span><span class="g">implement immutability checker</span><b class="k" style="width:7px"></b></div>
<div class="r H" style="--g:603px;--x:796px"><span class="t l3">16.12.4)&nbsp; integrate...</span><span class="e">1w 2d</span><span class="c">0%</span><span class="g">integrate immutability checker</span><b class="k" style="width:4px"></b></div>
<div class="r H"><span class="t l2">16.13)&nbsp; race condition checker</span><span class="e">1w</span><span class="c">90%</span><span class="g">race condition checker</span><b class="k" style="width:3px"></b></div>
<div class="r H"><span class="t l2 b">16.14)&nbsp; FreeBoogie subsystem</span><span class="e">14w</span><span class="c">22.86%</span><span class="g b">FreeBoogie subsystem</span><b class="s" style="width:50px"></b></div>
<div class="r H"><span class="t l3">16.14.1)&nbsp; structured BoogiePL...</span><span class="e">2w</span><span class="c">10%</span><span class="g">structured BoogiePL design</span><b class="k" style="width:4px"></b></div>
<div class="r H" style="--g:603px;--x:796px"><span class="t l3">16.14.2)&nbsp; explicit heap...</span><span class="e">1w</span><span class="c">10%</span><span class="g">explicit heap semantics</span><b class="k" style="width:3px"></b></div>
<div class="r H" style="--g:603px;--x:796px"><span class="t l3">16.14.3)&nbsp; design and...</span><span class="e">1w</span><span class="c">90%</span><span class="g">design and implement ASTs</span><b class="k" style="width:3px"></b></div>
<div class="r H" style="--g:603px;--x:796px"><span class="t l3">16.14.4)&nbsp; lexer, parser,...</span><span class="e">2w</span><span class="c">90%</span><span class="g">lexer, parser, typechecker</span><b class="k" style="width:4px"></b></div>
<div class="r H" style="--g:597px;--x:802px"><span class="t l3">16.14.5)&nbsp; separation logic...</span><span class="e">4w</span><span class="c">5%</span><span class="g">separation logic integration</span><b class="k" style="width:6px"></b></div>
<div class="r H" style="--g:592px;--x:806px"><span class="t l3">16.14.6)&nbsp; VC generation</span><span class="e">2w</span><span class="c">0%</span><span class="g">VC generation</span><b class="k" style="width:4px"></b></div>
<div class="r H" style="--g:561px;--x:838px"><span class="t l3">16.14.7)&nbsp; sorted prover...</span><span class="e">2w</span><span class="c">0%</span><span class="g">sorted prover integration</span><b class="k" style="width:4px"></b></div>
<div class="r H"><span class="t l2">16.15)&nbsp; proof-transforming...</span><span class="e">12w</span><span class="c">10%</span><span class="g">proof-transforming compiler</span><b class="k" style="width:16px;border-radius:6px"></b></div>
<div class="r H"><span class="t l2 b">16.16)&nbsp; interactive prover...</span><span class="e">1w</span><span class="c">25%</span><span class="g b">interactive prover integration</span><b class="k"></b></div>
<div class="r H"><span class="t l3">16.16.1)&nbsp; initial...</span><span class="e">1w</span><span class="c">25%</span><span class="g">initial implementation for PVS</span><b class="k"></b></div>
<div class="r H"><span class="t l2">16.17)&nbsp; Jack UI integration</span><span class="e">2w</span><span class="c">0%</span><span class="g">Jack UI integration</span><b class="k"></b></div>
<div class="r H"><span class="t l2 b">16.18)&nbsp; certificate generation</span><span class="e">4w</span><span class="c">0%</span><span class="g b">certificate generation</span><b class="s"></b></div>
<div class="r H"><span class="t l3">16.18.1)&nbsp; Coq lambda term...</span><span class="e">2w</span><span class="c">0%</span><span class="g">Coq lambda term generation</span><b class="k"></b></div>
<div class="r H"><span class="t l3">16.18.2)&nbsp; proof generation...</span><span class="e">2w</span><span class="c">0%</span><span class="g">proof generation from automatic provers</span><b class="k"></b></div>
<div class="r H"><span class="t l2">16.19)&nbsp; annotation tracing</span><span class="e">4w</span><span class="c">0%</span><span class="g">annotation tracing</span><b class="k" style="width:7px"></b></div>
<div class="r H"><span class="t l2">16.20)&nbsp; help system</span><span class="e">4w</span><span class="c">0%</span><span class="g">help system</span><b class="k" style="width:7px"></b></div>
<div class="r H"><span class="t l2">16.21)&nbsp; come up with official...</span><span class="e">1d</span><span class="c">0%</span><span class="g">come up with official names for all subsystems</span><b class="k" style="width:3px"></b></div>
<div class="r H"><span class="t l2 b">16.22)&nbsp; documentation</span><span class="e">3w</span><span class="c">0%</span><span class="g b">documentation</span><b class="s" style="width:78px"></b></div>
<div class="r H"><span class="t l3 b">16.22.1)&nbsp; subsystem...</span><span class="e">1w 3d</span><span class="c">0%</span><span class="g b">subsystem descriptions</span><b class="s" style="width:73px"></b></div>
<div class="r H5"><span class="t l4">16.22.1.1)&nbsp; JML2</span><span class="e">1d</span><span class="c">0%</span><span class="g">JML2</span><b class="k" style="width:3px"></b></div>
<div class="r H5"><span class="t l4">16.22.1.2)&nbsp; JavaFE</span><span class="e">1d</span><span class="c">0%</span><span class="g">JavaFE</span><b class="k" style="width:3px"></b></div>
<div class="r H5"><span class="t l4">16.22.1.3)&nbsp; ESC/Java2</span><span class="e">1d</span><span class="c">0%</span><span class="g">ESC/Java2</span><b class="k" style="width:3px"></b></div>
<div class="r H"><span class="t l4 b">16.22.1.4)&nbsp; GCgen</span><span class="e">2d</span><span class="c">0%</span><span class="g b">GCgen</span><b class="s" style="width:47px"></b></div>
<div class="r H" style="--g:561px;--x:838px"><span class="t l5">16.22.1.4.1)&nbsp; ESC/Java...</span><span class="e">1d</span><span class="c">0%</span><span class="g">ESC/Java2 GC</span><b class="k" style="width:3px"></b></div>
<div class="r H"><span class="t l5">16.22.1.4.2)&nbsp; BoogiePL...</span><span class="e">1d</span><span class="c">0%</span><span class="g">BoogiePL GC</span><b class="k" style="width:3px"></b></div>
<div class="r H"><span class="t l4">16.22.1.5)&nbsp; VCgen</span><span class="e">1d</span><span class="c">0%</span><span class="g">VCgen</span><b class="k" style="width:3px"></b></div>
<div class="r H"><span class="t l4">16.22.1.6)&nbsp; AutoProve</span><span class="e">1d</span><span class="c">0%</span><span class="g">AutoProve</span><b class="k" style="width:3px"></b></div>
<div class="r H" style="--g:563px;--x:836px"><span class="t l4">16.22.1.7)&nbsp; ProverEditor</span><span class="e">1d</span><span class="c">0%</span><span class="g">ProverEditor</span><b class="k" style="width:3px"></b></div>
<div class="r H6"><span class="t l3">16.22.2)&nbsp; process description</span><span class="e">1d</span><span class="c">0%</span><span class="g">process description</span><b class="k" style="width:3px"></b></div>
<div class="r H6"><span class="t l3">16.22.3)&nbsp; architecture...</span><span class="e">1d</span><span class="c">0%</span><span class="g">architecture description</span><b class="k" style="width:3px"></b></div>
<div class="r H6"><span class="t l3">16.22.4)&nbsp; coding standard</span><span class="e">1d</span><span class="c">0%</span><span class="g">coding standard</span><b class="k" style="width:3px"></b></div>
<div class="r H6"><span class="t l3">16.22.5)&nbsp; verification bus...</span><span class="e">1d</span><span class="c">0%</span><span class="g">verification bus features</span><b class="k" style="width:3px"></b></div>
<div class="r H6"><span class="t l3 b">16.22.6)&nbsp; what's new</span><span class="e">&gt; 2d</span><span class="c">0%</span><span class="g b">what's new</span><b class="k" style="width:4px"></b></div>
<div class="r H6"><span class="t l4">16.22.6.1)&nbsp; features</span><span class="e">1d</span><span class="c">0%</span><span class="g">features</span><b class="k" style="width:3px"></b></div>
<div class="r H6"><span class="t l4">16.22.6.2)&nbsp; bug fixes</span><span class="e">&gt; 1d</span><span class="c">0%</span><span class="g">bug fixes</span><b class="k" style="width:3px"></b></div>
<div class="r H6"><span class="t l3 b">16.22.7)&nbsp; what's next</span><span class="e">1d</span><span class="c">0%</span><span class="g b">what's next</span><b class="k" style="width:3px"></b></div>
<div class="r H6"><span class="t l4">16.22.7.1)&nbsp; features</span><span class="e">1d</span><span class="c">0%</span><span class="g">features</span><b class="k" style="width:3px"></b></div>
<div class="r H7"><span class="t l2 b">16.23)&nbsp; bells and whistles</span><span class="e">1w 1d</span><span class="c">16.67%</span><span class="g b">bells and whistles</span><b class="s"></b></div>
<div class="r H7"><span class="t l3">16.23.1)&nbsp; splash screen</span><span class="e">1d</span><span class="c">0%</span><span class="g">splash screen</span><b class="k" style="width:3px"></b></div>
<div class="r H7" style="--x:862px"><span class="t l3">16.23.2)&nbsp; FindBugs integration</span><span class="e">1d</span><span class="c">100%</span><span class="g">FindBugs integration</span><b class="k" style="width:3px"></b></div>
<div class="r H7"><span class="t l3 b">16.23.3)&nbsp; AST rendering</span><span class="e">4d</span><span class="c">0%</span><span class="g b">AST rendering</span><b class="s"></b></div>
<div class="r H7"><span class="t l4">16.23.3.1)&nbsp; Java AST</span><span class="e">1d</span><span class="c">0%</span><span class="g">Java AST</span><b class="k" style="width:3px"></b></div>
<div class="r H7"><span class="t l4">16.23.3.2)&nbsp; JML AST</span><span class="e">1d</span><span class="c">0%</span><span class="g">JML AST</span><b class="k" style="width:3px"></b></div>
<div class="r H7"><span class="t l4">16.23.3.3)&nbsp; GC AST</span><span class="e">1d</span><span class="c">0%</span><span class="g">GC AST</span><b class="k" style="width:3px"></b></div>
<div class="r H7"><span class="t l4">16.23.3.4)&nbsp; VC AST</span><span class="e">1d</span><span class="c">0%</span><span class="g">VC AST</span><b class="k" style="width:3px"></b></div>
<div class="r" style="--g:507px;--x:897px"><span class="t l1">17)&nbsp; Mobius PVE gamma release</span><span class="g">Mobius PVE gamma release</span><b class="d"></b><span class="m">T+91w 9:00 AM</span></div>
<div class="r" style="--g:525px;--x:879px"><span class="t l1 b">18)&nbsp; Mobius PVE delta development</span><span class="c">0%</span><span class="g b">Mobius PVE delta development</span><b class="s" style="width:8px;height:12px;background:#c8d8f4"></b></div>
<div class="r" style="--g:455px;--x:950px"><span class="t l1">19)&nbsp; Mobius PVE delta release</span><span class="g">Mobius PVE delta release</span><b class="d"></b><span class="m">T+120w 9:00 AM</span></div>
<div class="r" style="--g:630px;--x:771px"><span class="t l1 b">20)&nbsp; Houdini 1.0 development</span><span class="e">7w</span><span class="c">78.57%</span><span class="g b">Houdini 1.0 development</span><b class="s" style="width:8px;height:12px"></b></div>
<div class="r" style="--g:630px;--x:771px"><span class="t l2">20.1)&nbsp; revive Houdini</span><span class="e">4w</span><span class="c">100%</span><span class="g">revive Houdini</span><b class="k" style="width:4px"></b></div>
<div class="r" style="--g:630px;--x:772px"><span class="t l2">20.2)&nbsp; develop new, augmented...</span><span class="e">2w</span><span class="c">50%</span><span class="g">develop new, augmented test suite</span><b class="k" style="width:3px"></b></div>
<div class="r" style="--g:630px;--x:773px"><span class="t l2">20.3)&nbsp; document current feature...</span><span class="e">1w</span><span class="c">50%</span><span class="g">document current features and bugs</span><b class="k" style="width:3px"></b></div>
<div class="r" style="--g:514px;--x:888px"><span class="t l1">21)&nbsp; Houdini 1.0 release</span><span class="g">Houdini 1.0 release</span><b class="d"></b><span class="m">T+86w 3d 10:00 AM</span></div>
<div class="r" style="--g:532px;--x:873px"><span class="t l1">22)&nbsp; Mobius Deliverable 3.5</span><span class="g">Mobius Deliverable 3.5</span><b class="d"></b><span class="m">T+77w 6d 9:00 AM</span></div>
<div class="r" style="--g:354px;--x:1050px"><span class="t l1">23)&nbsp; Mobius Deliverable 3.10</span><span class="g">Mobius Deliverable 3.10</span><b class="d"></b><span class="m">T+173w 6d 9:00 AM</span></div>
<div class="r J"><span class="t l1 b">24)&nbsp; JML tool suite</span><span class="e">&lt; 342w 4...</span><span class="c">67.43%</span><span class="g b">JML tool suite</span></div>
<div class="r J"><span class="t l2 b">24.1)&nbsp; type system updates</span><span class="e">16w</span><span class="c">67.5%</span><span class="g b">type system updates</span><b class="s" style="width:7px"></b></div>
<div class="r J"><span class="t l3 b">24.1.1)&nbsp; universes type...</span><span class="e">8w</span><span class="c">90%</span><span class="g b">universes type system</span><b class="s" style="width:7px"></b></div>
<div class="r J"><span class="t l4">24.1.1.1)&nbsp; type checker</span><span class="e">4w</span><span class="c">90%</span><span class="g">type checker</span><b class="k"></b></div>
<div class="r J"><span class="t l4">24.1.1.2)&nbsp; type inference</span><span class="e">4w</span><span class="c">90%</span><span class="g">type inference</span><b class="k"></b></div>
<div class="r J"><span class="t l3">24.1.2)&nbsp; non-null type system</span><span class="e">4w</span><span class="c">90%</span><span class="g">non-null type system</span><b class="k"></b></div>
<div class="r J"><span class="t l3">24.1.3)&nbsp; immutability type...</span><span class="e">4w</span><span class="c">0%</span><span class="g">immutability type system</span><b class="k"></b></div>
<div class="r J"><span class="t l2 b">24.2)&nbsp; J2SE 5.0</span><span class="e">22w</span><span class="c">41.82%</span><span class="g b">J2SE 5.0</span><b class="s" style="width:10px"></b></div>
<div class="r J"><span class="t l3 b">24.2.1)&nbsp; support for Java 1.5...</span><span class="e">16w</span><span class="c">57.5%</span><span class="g b">support for Java 1.5 language features</span><b class="s" style="width:9px"></b></div>
<div class="r J"><span class="t l4">24.2.1.1)&nbsp; generics</span><span class="e">8w</span><span class="c">25%</span><span class="g">generics</span><b class="k" style="width:9px"></b></div>
<div class="r J"><span class="t l4">24.2.1.2)&nbsp; enhanced for...</span><span class="e">1w</span><span class="c">90%</span><span class="g">enhanced for loop</span><b class="k" style="width:3px"></b></div>
<div class="r J"><span class="t l4">24.2.1.3)&nbsp; autoboxing...</span><span class="e">2w</span><span class="c">90%</span><span class="g">autoboxing/unboxing</span><b class="k" style="width:4px"></b></div>
<div class="r J"><span class="t l4">24.2.1.4)&nbsp; typesafe enums</span><span class="e">1w</span><span class="c">90%</span><span class="g">typesafe enums</span><b class="k" style="width:3px"></b></div>
<div class="r J"><span class="t l4">24.2.1.5)&nbsp; varargs</span><span class="e">1w</span><span class="c">90%</span><span class="g">varargs</span><b class="k" style="width:3px"></b></div>
<div class="r J"><span class="t l4">24.2.1.6)&nbsp; static import</span><span class="e">1w</span><span class="c">90%</span><span class="g">static import</span><b class="k" style="width:3px"></b></div>
<div class="r J"><span class="t l4">24.2.1.7)&nbsp; metadata</span><span class="e">2w</span><span class="c">90%</span><span class="g">metadata</span><b class="k" style="width:4px"></b></div>
<div class="r J"><span class="t l3">24.2.2)&nbsp; Java 1.5 API updates</span><span class="e">4w</span><span class="c">0%</span><span class="g">Java 1.5 API updates</span><b class="k"></b></div>
<div class="r J"><span class="t l3">24.2.3)&nbsp; J2SE 5.0 Javadoc...</span><span class="e">2w</span><span class="c">0%</span><span class="g">J2SE 5.0 Javadoc doclet</span><b class="k" style="width:4px"></b></div>
<div class="r J"><span class="t l2 b">24.3)&nbsp; J2SE 6.0</span><span class="e">4w</span><span class="c">0%</span><span class="g b">J2SE 6.0</span><b class="s" style="width:7px"></b></div>
<div class="r J"><span class="t l3">24.3.1)&nbsp; Java 1.6 API updates</span><span class="e">4w</span><span class="c">0%</span><span class="g">Java 1.6 API updates</span><b class="k"></b></div>
<div class="r J"><span class="t l2">24.4)&nbsp; JML annotations as Java...</span><span class="e">8w</span><span class="c">50%</span><span class="g">JML annotations as Java annotations</span><b class="k" style="width:9px"></b></div>
<div class="r" style="--g:502px;--x:898px"><span class="t l2">24.5)&nbsp; refinement chain analyses</span><span class="e">5w 3d 7h</span><span class="c">0%</span><span class="g">refinement chain analyses</span><b class="k" style="width:8px"></b></div>
<div class="r" style="--g:540px"><span class="t l2 b">24.6)&nbsp; next generation JML...</span><span class="e">263w 2...</span><span class="c">75.96%</span><span class="g b">next generation JML experimentation</span></div>
<div class="r" style="--g:197px"><span class="t l3">24.6.1)&nbsp; JML3 Eclipse...</span><span class="e">117w 3d 6h</span><span class="c">80%</span><span class="g">JML3 Eclipse integration experiments</span></div>
<div class="r" style="--g:197px"><span class="t l3">24.6.2)&nbsp; JML4 Eclipse...</span><span class="e">117w 3d 6h</span><span class="c">80%</span><span class="g">JML4 Eclipse integration experiments</span></div>
<div class="r" style="--g:540px;--x:858px"><span class="t l3">24.6.3)&nbsp; javac experimentation</span><span class="e">22w 1d 5h</span><span class="c">50%</span><span class="g">javac experimentation</span><b class="k" style="width:30px;border-radius:2px;background:linear-gradient(to right,#5a7ab8 50%,#dfe8f8 50%)"></b></div>
<div class="r" style="--g:518px;--x:882px"><span class="t l3">24.6.4)&nbsp; decision on new...</span><span class="e">5w 3d 2h</span><span class="c">10%</span><span class="g">decision on new foundation</span><b class="k" style="width:7px"></b></div>
<div class="r" style="--g:525px;--x:873px"><span class="t l2">24.7)&nbsp; reflective unit testing</span><span class="e">&lt; 23w 3...</span><span class="c">15%</span><span class="g">reflective unit testing</span><b class="k" style="width:23px;border-radius:2px;background:linear-gradient(to right,#5a7ab8 15%,#dfe8f8 15%)"></b></div>
</div></div>
</body></html>
